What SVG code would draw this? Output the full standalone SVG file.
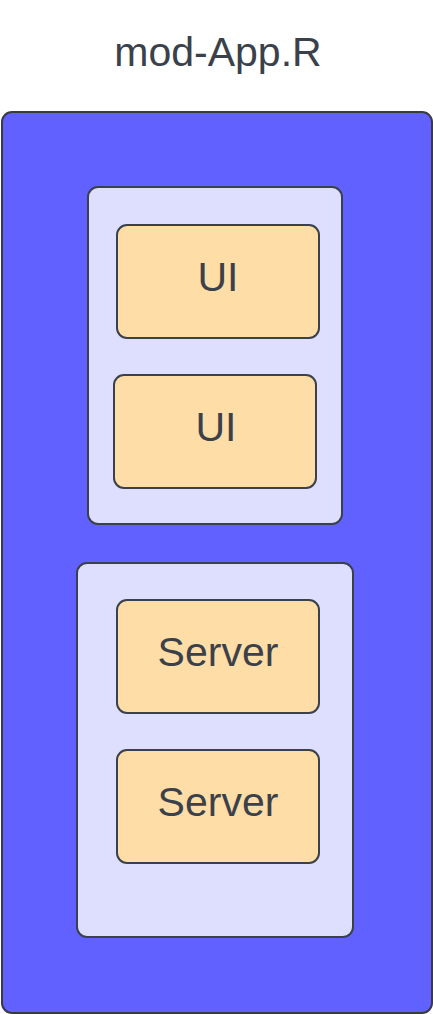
<svg xmlns="http://www.w3.org/2000/svg" width="433" height="1014" viewBox="0 0 433 1014">
<style>
.frame{fill:#6161ff;stroke:#3a3a45;stroke-width:2}
.panel{fill:#dedeff;stroke:#3a414a;stroke-width:2}
.box{fill:#ffdda6;stroke:#3a414a;stroke-width:2}
text{font-family:"Liberation Sans",Arial,sans-serif;fill:#3a414a;text-anchor:middle}
.t{font-size:41px}
.l{font-size:41px}
</style>
<rect width="433" height="1014" fill="#ffffff"/>
<g id="title"><text class="t" x="218" y="66">mod-App.R</text></g>
<g id="app"><rect class="frame" x="2" y="112" width="430" height="901" rx="10"/></g>
<g id="ui-panel"><rect class="panel" x="88" y="187" width="254" height="337" rx="10"/></g>
<g id="ui1"><rect class="box" x="117" y="225" width="202" height="113" rx="10"/><text class="l" x="218" y="291">UI</text></g>
<g id="ui2"><rect class="box" x="114" y="375" width="202" height="113" rx="10"/><text class="l" x="216" y="441">UI</text></g>
<g id="server-panel"><rect class="panel" x="77" y="563" width="276" height="374" rx="10"/></g>
<g id="server1"><rect class="box" x="117" y="600" width="202" height="113" rx="10"/><text class="l" x="218" y="666">Server</text></g>
<g id="server2"><rect class="box" x="117" y="750" width="202" height="113" rx="10"/><text class="l" x="218" y="816">Server</text></g>
<g id="connectors"></g>
</svg>
